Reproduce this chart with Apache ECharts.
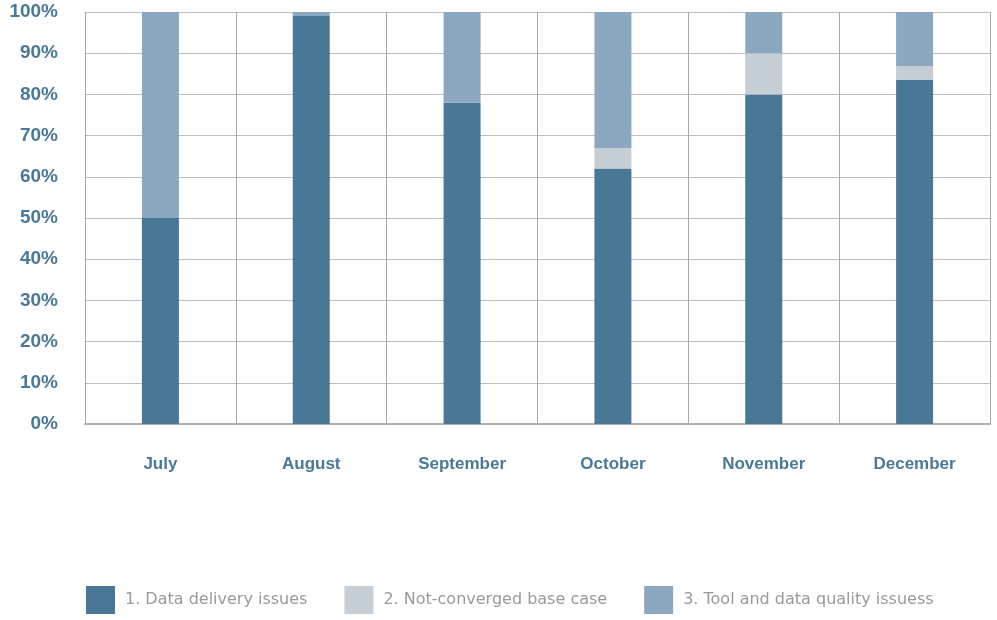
<!DOCTYPE html>
<html>
<head>
<meta charset="utf-8">
<script src="https://cdn.jsdelivr.net/npm/echarts@6/dist/echarts.min.js"></script>
<style>
  html, body { margin: 0; padding: 0; background: #fff; }
  #main { width: 997px; height: 620px; }
</style>
</head>
<body>
<div id="main"></div>
<script>
// 数据
var months = ['July', 'August', 'September', 'October', 'November', 'December'];
var delivery = [50, 99, 78, 62, 80, 83.5];
var notConverged = [0, 0, 0, 5, 10, 3.4];
var toolQuality = [50, 1, 22, 33, 10, 13.1];
var yTicks = [0, 10, 20, 30, 40, 50, 60, 70, 80, 90, 100];

var myChart = echarts.init(document.getElementById('main'));

var labelColor = '#4a7899';
var option = {
  animation: false,
  grid: { left: 85, right: 7, top: 12, bottom: 196 },
  legend: {
    bottom: 6,
    left: 86,
    padding: 0,
    itemWidth: 29,
    itemHeight: 28,
    itemGap: 37,
    icon: 'rect',
    textStyle: { color: '#999', fontSize: 16, fontFamily: 'DejaVu Sans', padding: [0, 0, 0, 5] },
    data: ['1. Data delivery issues', '2. Not-converged base case', '3. Tool and data quality issuess']
  },
  xAxis: {
    type: 'category',
    data: months,
    axisLine: { lineStyle: { color: '#b0b0b0', width: 2 } },
    axisTick: { show: false },
    splitLine: { show: true, lineStyle: { color: '#a8a8a8', width: 1 } },
    axisLabel: { color: labelColor, fontSize: 17, fontWeight: 'bold', fontFamily: 'Liberation Sans', margin: 32 }
  },
  yAxis: {
    type: 'value',
    min: yTicks[0],
    max: yTicks[yTicks.length - 1],
    interval: 10,
    axisLine: { show: false },
    axisTick: { show: false },
    splitLine: { lineStyle: { color: '#bdbdbd', width: 1 } },
    axisLabel: {
      color: labelColor, fontSize: 19, fontWeight: 'bold', fontFamily: 'Liberation Sans', margin: 27,
      padding: [6, 0, 0, 0],
      formatter: function (v) { return v + '%'; }
    }
  },
  series: [
    {
      name: '1. Data delivery issues', type: 'bar', stack: 'all', barWidth: 37,
      itemStyle: { color: '#487896' }, data: delivery
    },
    {
      name: '2. Not-converged base case', type: 'bar', stack: 'all', barWidth: 37,
      itemStyle: { color: '#c5cdd5' }, data: notConverged
    },
    {
      name: '3. Tool and data quality issuess', type: 'bar', stack: 'all', barWidth: 37,
      itemStyle: { color: '#8ca8c1' }, data: toolQuality
    }
  ]
};
myChart.setOption(option);
</script>
</body>
</html>
